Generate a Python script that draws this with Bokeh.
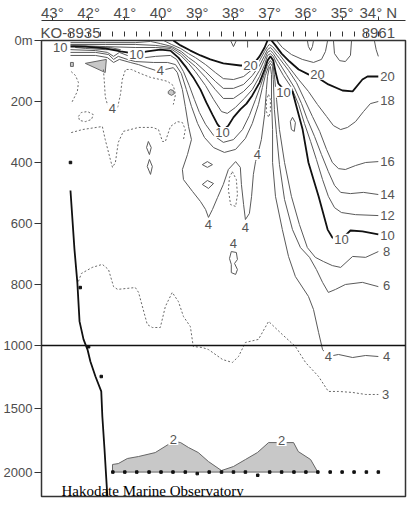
from bokeh.plotting import figure
from bokeh.models import Range1d, LinearAxis, FixedTicker, Span, Label, ColumnDataSource
from bokeh.embed import file_html
from bokeh.resources import INLINE
from bokeh.core.properties import value

# ---------------- data (latitude in degrees N, depth in m) ----------------
lat_ticks = [43, 42, 41, 40, 39, 38, 37, 36, 35, 34]
lat_tick_labels = ["43°", "42°", "41°", "40°", "39°", "38°", "37°", "36°", "35°", "34° N"]
station_lat = [42.5, 42.0, 41.67, 41.33, 41.0, 40.67, 40.33, 40.0, 39.67, 39.33, 39.0,
               38.67, 38.33, 38.0, 37.67, 37.33, 37.0, 36.67, 36.33, 36.0, 35.67, 35.33,
               35.0, 34.67, 34.33, 34.0]
station_first = "KO-8935"
station_last = "8961"
depth_ticks = [0, 200, 400, 600, 800, 1000, 1500, 2000]
depth_tick_labels = ["0m", "200", "400", "600", "800", "1000", "1500", "2000"]

# 20 degC isotherm (thick)
iso20a_lat = [39.66, 39.46, 39.19, 38.91, 38.64, 38.28, 37.81, 37.53, 37.39, 37.28, 37.14, 37.06]
iso20a_dep = [0, 16, 33, 49, 62, 75, 82, 82, 69, 52, 23, 0]
iso20b_lat = [36.95, 36.84, 36.67, 36.45, 36.20, 35.93, 35.68, 35.38, 34.99, 34.71, 34.44, 34.30, 34.00]
iso20b_dep = [0, 16, 43, 69, 95, 111, 121, 144, 164, 167, 128, 118, 118]
# 18
iso18_lat = [39.93, 39.71, 39.46, 39.24, 39.05, 38.77, 38.50, 38.28, 38.00, 37.72, 37.48, 37.28,
             37.14, 37.06, 37.01, 36.92, 36.73, 36.48, 36.20, 35.93, 35.68, 35.43, 35.24, 35.04,
             34.85, 34.63, 34.41, 34.22, 34.00]
iso18_dep = [0, 13, 26, 43, 56, 79, 105, 125, 128, 118, 95, 66, 36, 20, 13, 20, 46, 85, 128,
             167, 210, 249, 279, 292, 285, 266, 233, 207, 200]
# 16
iso16_lat = [42.50, 41.54, 40.71, 40.29, 40.02, 39.69, 39.44, 39.24, 39.05, 38.77, 38.50, 38.28,
             38.00, 37.72, 37.48, 37.28, 37.14, 37.06, 36.98, 36.90, 36.73, 36.48, 36.26, 36.04,
             35.82, 35.62, 35.43, 35.27, 35.10, 34.91, 34.63, 34.35, 34.00]
iso16_dep = [7, 7, 7, 3, 10, 20, 36, 56, 72, 102, 134, 157, 157, 144, 115, 82, 49, 30, 23, 33,
             59, 98, 138, 193, 249, 298, 357, 400, 420, 423, 410, 400, 397]
# 14
iso14_lat = [42.50, 41.54, 40.71, 40.16, 39.71, 39.44, 39.24, 39.05, 38.77, 38.50, 38.28, 38.00,
             37.72, 37.48, 37.28, 37.14, 37.06, 36.98, 36.90, 36.76, 36.54, 36.32, 36.12, 35.96,
             35.76, 35.57, 35.38, 35.21, 35.04, 34.77, 34.41, 34.00]
iso14_dep = [13, 13, 13, 16, 23, 43, 66, 85, 121, 161, 190, 190, 167, 138, 98, 62, 39, 33, 43,
             69, 111, 154, 207, 259, 315, 374, 430, 475, 498, 502, 498, 505]
# 12
iso12_lat = [42.50, 41.54, 40.71, 40.16, 39.74, 39.46, 39.24, 39.05, 38.77, 38.55, 38.33, 38.17,
             37.95, 37.70, 37.48, 37.28, 37.14, 37.06, 36.98, 36.90, 36.81, 36.62, 36.40, 36.20,
             36.04, 35.87, 35.71, 35.54, 35.38, 35.21, 35.02, 34.63, 34.00]
iso12_dep = [16, 20, 23, 23, 26, 49, 75, 102, 148, 193, 233, 239, 220, 190, 161, 118, 79, 49, 43,
             52, 75, 115, 154, 210, 272, 331, 390, 456, 511, 548, 564, 571, 574]
# 10 (thick)
iso10_lat = [42.50, 42.09, 41.54, 41.12, 40.71, 40.38, 40.02, 39.74, 39.52, 39.30, 39.11, 38.91,
             38.75, 38.58, 38.44, 38.30, 38.14, 38.00, 37.81, 37.64, 37.48, 37.28, 37.14, 37.06,
             36.98, 36.90, 36.84, 36.76, 36.56, 36.37, 36.29, 36.09, 35.93, 35.79, 35.65, 35.40,
             35.27, 35.02, 34.77, 34.44, 34.00]
iso10_dep = [20, 20, 26, 36, 43, 36, 30, 33, 56, 89, 121, 161, 203, 243, 275, 295, 279, 252, 226,
             207, 180, 138, 95, 66, 52, 66, 102, 141, 167, 167, 203, 292, 400, 456, 511, 620, 646,
             652, 623, 626, 636]
# 8
iso8_lat = [42.50, 41.81, 41.48, 41.31, 41.15, 40.93, 40.71, 40.43, 40.15, 39.74, 39.57, 39.38,
            39.22, 39.08, 38.94, 38.77, 38.55, 38.28, 38.00, 37.75, 37.56, 37.39, 37.25, 37.14,
            37.06, 36.98, 36.92, 36.87, 36.81, 36.73, 36.59, 36.40, 36.18, 35.96, 35.74, 35.51,
            35.27, 35.04, 34.71, 34.35, 34.00]
iso8_dep = [30, 33, 39, 52, 39, 49, 56, 56, 52, 49, 62, 102, 148, 193, 236, 275, 311, 334, 325,
            292, 246, 193, 148, 108, 79, 66, 75, 111, 193, 292, 400, 511, 603, 679, 711, 725, 738,
            744, 708, 711, 692]
# 6
iso6_lat = [42.50, 41.81, 41.45, 41.31, 41.18, 40.93, 40.71, 40.21, 39.82, 39.60, 39.44, 39.30,
            39.16, 38.99, 38.80, 38.55, 38.25, 37.94, 37.67, 37.48, 37.31, 37.20, 37.12, 37.03,
            36.98, 36.92, 36.90, 36.87, 36.81, 36.73, 36.59, 36.37, 36.15, 35.90, 35.71, 35.54,
            35.38, 35.18, 34.91, 34.44, 34.00]
iso6_dep = [39, 39, 46, 62, 52, 62, 69, 72, 72, 79, 108, 161, 216, 272, 318, 351, 367, 357, 321,
            272, 210, 154, 115, 85, 75, 85, 128, 226, 308, 407, 521, 620, 679, 711, 751, 793, 826,
            816, 800, 793, 807]
# 4
iso4_lat = [42.50, 41.81, 41.48, 41.31, 41.15, 40.85, 40.62, 40.38, 40.15, 39.88, 39.66, 39.55,
            39.41, 39.33, 39.24, 39.16, 39.27, 39.41, 39.38, 39.13, 38.91, 38.77, 38.69, 38.58,
            38.44, 38.28, 38.14, 37.94, 37.81, 37.78, 37.72, 37.67, 37.56, 37.50, 37.45, 37.39,
            37.31, 37.23, 37.14, 37.09, 37.06, 37.01, 36.98, 36.95, 36.95, 36.92, 36.92, 36.84,
            36.65, 36.48, 36.29, 35.93, 35.79, 35.65, 35.54, 35.38, 35.10, 34.71, 34.35, 34.00]
iso4_dep = [49, 49, 56, 72, 62, 72, 79, 89, 98, 95, 89, 105, 161, 216, 282, 325, 374, 423, 456,
            495, 528, 554, 580, 554, 515, 472, 423, 397, 416, 472, 538, 587, 567, 511, 439, 397,
            364, 325, 243, 161, 118, 89, 85, 111, 193, 292, 400, 511, 620, 708, 774, 839, 882,
            957, 1032, 1087, 1071, 1095, 1079, 1087]
# 3 (dotted, deep)
iso3_lat = [42.28, 42.20, 41.90, 41.62, 41.45, 41.31, 41.20, 40.71, 40.62, 40.38, 40.24, 40.02,
            39.88, 39.69, 39.52, 39.38, 39.19, 39.11, 38.86, 38.69, 38.30, 38.03, 37.86, 37.67,
            37.31, 37.03, 36.65, 36.29, 36.01, 35.65, 35.38, 35.10, 34.71, 34.35, 34.00]
iso3_dep = [790, 764, 744, 734, 751, 807, 816, 810, 826, 931, 941, 941, 872, 826, 856, 905, 938,
            1008, 1016, 1032, 1111, 1134, 1087, 990, 980, 921, 964, 1008, 1134, 1245, 1363, 1363,
            1371, 1387, 1387]
# dotted upper contours
dot_a_lat = [42.48, 42.36, 42.28, 42.31, 42.42, 42.48]
dot_a_dep = [102, 115, 138, 167, 193, 207]
dot_b_lat = [41.59, 41.56, 41.54, 41.48, 41.34, 41.20, 41.12, 41.07, 40.98, 40.82, 40.57, 40.29,
             40.02, 39.82, 39.66, 39.60, 39.66]
dot_b_dep = [95, 144, 184, 210, 226, 220, 177, 128, 95, 95, 108, 121, 128, 134, 148, 177, 210]
dot_c_lat = [42.48, 42.17, 41.62, 41.54, 41.40, 41.34, 41.26, 41.18, 41.04, 40.62, 40.24, 40.07,
             39.96, 39.88, 39.74, 39.55, 39.41, 39.33, 39.38]
dot_c_dep = [302, 292, 282, 325, 390, 416, 400, 334, 298, 285, 285, 292, 331, 331, 282, 266, 269,
             292, 325]
dot_d_lat = [42.28, 42.20, 42.03, 41.87, 41.92, 42.09, 42.25, 42.28]
dot_d_dep = [249, 236, 233, 243, 259, 266, 262, 249]
dot_e_lat = [38.03, 37.92, 37.89, 37.94, 38.08, 38.14, 38.11, 38.03]
dot_e_dep = [430, 456, 505, 544, 538, 489, 449, 430]
dot_f_lat = [37.03, 36.98, 36.98, 37.03, 37.09, 37.09, 37.03]
dot_f_dep = [177, 193, 233, 252, 233, 193, 177]
# small solid contours
loop_a_lat = [40.35, 40.27, 40.32, 40.40, 40.35]
loop_a_dep = [331, 351, 374, 351, 331]
loop_b_lat = [40.32, 40.24, 40.29, 40.38, 40.32]
loop_b_dep = [390, 413, 439, 413, 390]
loop_c_lat = [38.86, 38.72, 38.58, 38.72, 38.86]
loop_c_dep = [407, 397, 407, 416, 407]
loop_d_lat = [38.86, 38.72, 38.55, 38.69, 38.86]
loop_d_dep = [472, 459, 469, 485, 472]
loop_e_lat = [36.37, 36.29, 36.32, 36.40, 36.43, 36.37]
loop_e_dep = [252, 269, 298, 292, 266, 252]
loop_f_lat = [38.06, 37.92, 37.89, 37.97, 37.89, 37.94, 38.06, 38.06, 38.11, 38.06]
loop_f_dep = [692, 695, 718, 731, 751, 767, 761, 734, 715, 692]
surf_a_lat = [36.81, 36.65, 36.40, 36.10, 35.79, 35.57, 35.46, 35.40]
surf_a_dep = [0, 23, 46, 62, 72, 62, 36, 0]
surf_b_lat = [35.24, 35.21, 35.07, 34.91, 34.77, 34.74]
surf_b_dep = [0, 43, 66, 69, 49, 0]
surf_c_lat = [35.96, 35.93, 35.87, 35.82, 35.79]
surf_c_dep = [0, 20, 33, 20, 0]
surf_d_lat = [34.11, 34.06, 34.00]
surf_d_dep = [0, 30, 52]
surf_e_lat = [38.08, 38.00, 37.92]
surf_e_dep = [0, 20, 0]
surf_f_lat = [37.61, 37.61]
surf_f_dep = [0, 23]

# shaded cold water
cold2_lat = [41.34, 41.34, 41.18, 40.93, 40.62, 40.16, 39.80, 39.60, 39.46, 39.24, 38.97, 38.69,
             38.33, 38.00, 37.67, 37.34, 37.03, 36.34, 36.21, 35.87, 35.68, 35.68]
cold2_dep = [2000, 1940, 1933, 1893, 1877, 1846, 1782, 1759, 1767, 1806, 1846, 1917, 1988, 1956,
             1901, 1846, 1767, 1767, 1838, 1901, 1996, 2000]
shade_a_lat = [42.09, 41.51, 41.54]
shade_a_dep = [75, 62, 105]
shade_b_lat = [42.50, 42.42, 42.42, 42.50]
shade_b_dep = [72, 72, 85, 85]
shade_c_lat = [39.80, 39.74, 39.66, 39.63, 39.71, 39.80]
shade_c_dep = [167, 161, 164, 174, 180, 174]
shade_d_lat = [42.36, 41.81, 41.40, 41.12, 41.54, 42.09, 42.36]
shade_d_dep = [20, 20, 23, 30, 30, 26, 23]

# bottom profile and deepest samples
bottom_lat = [42.50, 42.39, 42.31, 42.25, 42.14, 42.03, 41.95, 41.81, 41.65, 41.62, 41.56, 41.48]
bottom_dep = [492, 685, 794, 921, 980, 1032, 1127, 1245, 1363, 1561, 1822, 2200]
sample_lat = [42.5, 42.23, 42.0, 41.65, 41.33, 41.0, 40.67, 40.33, 40.0, 39.67, 39.33, 39.0,
              38.67, 38.33, 38.0, 37.67, 37.33, 37.0, 36.67, 36.33, 36.0, 35.67, 35.33, 35.0,
              34.67, 34.33, 34.0]
sample_dep = [400, 810, 1010, 1245, 2000, 2000, 2000, 2000, 2000, 2000, 2000, 2012, 2000, 2000,
              2000, 2000, 2025, 2000, 2000, 2000, 2000, 2000, 2000, 2000, 2000, 2000, 2000]

# contour labels
label_text = ["10", "10", "10", "10", "10", "10", "20", "20", "20", "18", "16", "14", "12",
              "8", "6", "4", "4", "4", "4", "4", "4", "4", "4", "3", "2", "2"]
label_lat = [42.78, 40.68, 38.30, 36.62, 35.02, 33.75, 37.53, 35.68, 33.75, 33.75, 33.75, 33.75,
             33.75, 33.77, 33.77, 33.77, 35.38, 40.02, 41.34, 38.69, 37.67, 37.34, 38.00, 33.80,
             39.66, 36.67]
label_dep = [23, 46, 302, 170, 652, 639, 82, 111, 118, 197, 397, 505, 574, 692, 803, 1087, 1087,
             98, 223, 603, 613, 374, 666, 1387, 1742, 1750]

credit = "Hakodate Marine Observatory"

# ---------------- depth axis: linear to 1000 m, compressed below ----------------
BREAK = 1000.0
LOWER = 0.415


def zy(d):
    return d if d <= BREAK else BREAK + (d - BREAK) * LOWER


def zys(ds):
    return [zy(d) for d in ds]


FONT = "Liberation Sans"
GREY = "#4d4d4d"

p = figure(frame_width=364, frame_height=456,
           x_range=Range1d(43.30, 33.25), y_range=Range1d(zy(2193), 0),
           x_axis_location=None, y_axis_location="left",
           toolbar_location=None, output_backend="svg",
           min_border_left=38, min_border_right=6, min_border_top=0, min_border_bottom=6,
           background_fill_color="white", border_fill_color="white",
           outline_line_color="#333333", outline_line_width=1.5)
p.grid.visible = False

# left depth axis
ya = p.yaxis[0]
ya.ticker = FixedTicker(ticks=[zy(d) for d in depth_ticks])
ya.major_label_overrides = {zy(d): t for d, t in zip(depth_ticks, depth_tick_labels)}
ya.axis_line_color = None
ya.major_tick_in = 0
ya.major_tick_out = 7
ya.major_tick_line_color = "#333333"
ya.minor_tick_line_color = None
ya.major_label_standoff = 2
ya.major_label_text_font = FONT
ya.major_label_text_font_size = "13px"
ya.major_label_text_color = GREY

# station axis (nearest the frame)
st_over = {s: "" for s in station_lat}
st_over[station_lat[0]] = station_first
st_over[station_lat[-1]] = station_last
st_axis = LinearAxis(ticker=FixedTicker(ticks=station_lat), major_label_overrides=st_over,
                     axis_line_color=None, major_tick_in=-4, major_tick_out=9,
                     major_tick_line_color="#333333", minor_tick_line_color=None,
                     major_label_standoff=-9, major_label_text_font=FONT,
                     major_label_text_font_size="15px", major_label_text_color=GREY)
p.add_layout(st_axis, "above")

# latitude axis
lat_axis = LinearAxis(ticker=FixedTicker(ticks=lat_ticks),
                      major_label_overrides=dict(zip(lat_ticks, lat_tick_labels)),
                      axis_line_color="#333333", axis_line_width=1,
                      major_tick_in=0, major_tick_out=4, major_tick_line_color="#333333",
                      minor_tick_line_color=None, major_label_standoff=-4,
                      major_label_text_font=FONT, major_label_text_font_size="15px",
                      major_label_text_color=GREY)
p.add_layout(lat_axis, "above")

# shaded regions
SHADE = "#c8c8c8"
p.patch(cold2_lat, zys(cold2_dep), fill_color=SHADE, line_color="#666666", line_width=1)
for la, de in [(shade_a_lat, shade_a_dep), (shade_b_lat, shade_b_dep),
               (shade_c_lat, shade_c_dep), (shade_d_lat, shade_d_dep)]:
    p.patch(la, zys(de), fill_color=SHADE, line_color="#666666", line_width=1)

# thin solid contours
THIN = "#5a5a5a"
thin_lines = [(iso18_lat, iso18_dep), (iso16_lat, iso16_dep), (iso14_lat, iso14_dep),
              (iso12_lat, iso12_dep), (iso8_lat, iso8_dep), (iso6_lat, iso6_dep),
              (iso4_lat, iso4_dep), (loop_a_lat, loop_a_dep), (loop_b_lat, loop_b_dep),
              (loop_c_lat, loop_c_dep), (loop_d_lat, loop_d_dep), (loop_e_lat, loop_e_dep),
              (loop_f_lat, loop_f_dep), (surf_a_lat, surf_a_dep), (surf_b_lat, surf_b_dep),
              (surf_c_lat, surf_c_dep), (surf_d_lat, surf_d_dep), (surf_e_lat, surf_e_dep),
              (surf_f_lat, surf_f_dep)]
for la, de in thin_lines:
    p.line(la, zys(de), line_color=THIN, line_width=1)

# dotted contours
dotted = [(iso3_lat, iso3_dep), (dot_a_lat, dot_a_dep), (dot_b_lat, dot_b_dep),
          (dot_c_lat, dot_c_dep), (dot_d_lat, dot_d_dep), (dot_e_lat, dot_e_dep),
          (dot_f_lat, dot_f_dep)]
for la, de in dotted:
    p.line(la, zys(de), line_color="#6a6a6a", line_width=1, line_dash="2 2")

# thick contours (10 and 20)
for la, de in [(iso10_lat, iso10_dep), (iso20a_lat, iso20a_dep), (iso20b_lat, iso20b_dep)]:
    p.line(la, zys(de), line_color="#111111", line_width=1.8)

# bottom profile
p.line(bottom_lat, zys(bottom_dep), line_color="#111111", line_width=1.8)

# deepest sampling depths
p.scatter(sample_lat, zys(sample_dep), marker="square", size=2.5, color="#111111")

# contour labels
lab = ColumnDataSource(dict(x=label_lat, y=zys(label_dep), text=label_text,
                            w=[7 * len(t) + 3 for t in label_text]))
p.rect(x="x", y="y", width="w", height=11, width_units="screen", height_units="screen",
       fill_color="white", line_color=None, source=lab)
p.text(x="x", y="y", text="text", source=lab, text_align="center", text_baseline="middle",
       text_font=value(FONT), text_font_size="13px", text_color="#555555")

# 1000 m break line
p.add_layout(Span(location=zy(1000), dimension="width", line_color="#111111", line_width=1.5))

p.add_layout(Label(x=42.75, y=zy(2146), text=credit, text_font="Liberation Serif",
                   text_font_size="15px", text_color="#000000", text_baseline="alphabetic"))

open("out.html", "w").write(file_html(p, INLINE))
